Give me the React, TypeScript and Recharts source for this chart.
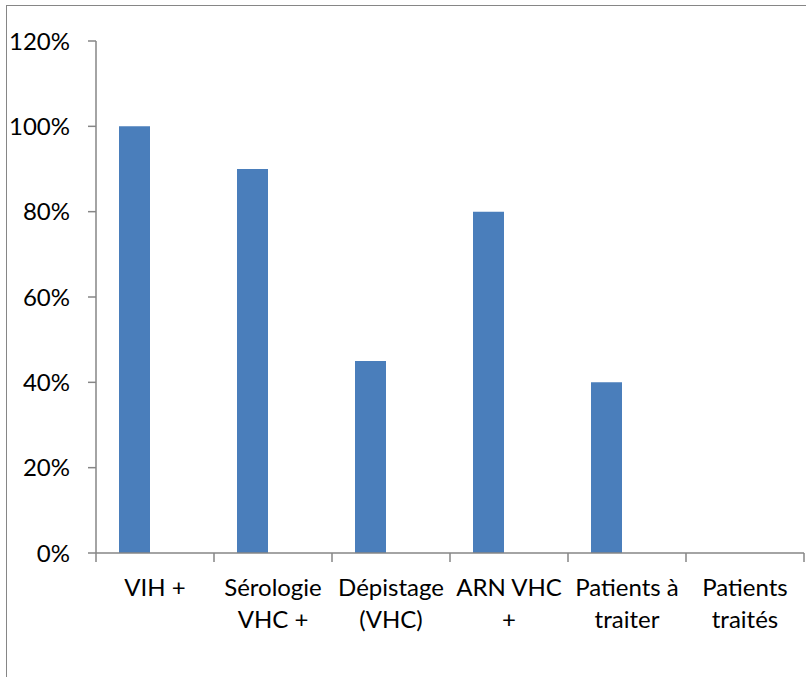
import { Bar, BarChart, XAxis, YAxis } from "recharts";

const CATEGORIES = [
  "VIH +",
  "Sérologie\nVHC +",
  "Dépistage\n(VHC)",
  "ARN VHC\n+",
  "Patients à\ntraiter",
  "Patients\ntraités",
];
const VALUES = [1.0, 0.9, 0.45, 0.8, 0.4, 0];
// second (empty) series of the original Excel chart, keeps bars off-centre
const EMPTY_SERIES = [null, null, null, null, null, null];
const Y_TICKS = [0, 0.2, 0.4, 0.6, 0.8, 1.0, 1.2];

const data = CATEGORIES.map((name, i) => ({ name, value: VALUES[i], other: EMPTY_SERIES[i] }));

const AXIS = "#868686";
const BLUE = "#4a7ebb";
const FONT = "Lato, Carlito, 'Open Sans', sans-serif";

function XTick(props: any) {
  const { x, y, payload, index } = props;
  const half = payload.offset || 59;
  const lines = String(payload.value).split("\n");
  const i = index ?? payload.index;
  return (
    <g>
      <line x1={x - half} x2={x - half} y1={y} y2={y + 9} stroke={AXIS} strokeWidth={1.5} />
      {i === CATEGORIES.length - 1 && (
        <line x1={x + half} x2={x + half} y1={y} y2={y + 9} stroke={AXIS} strokeWidth={1.5} />
      )}
      <text x={x} y={y} textAnchor="middle" fontSize={24} fill="#000" fontFamily={FONT}>
        {lines.map((l, k) => (
          <tspan key={k} x={x} dy={k === 0 ? 43 : 32}>
            {l}
          </tspan>
        ))}
      </text>
    </g>
  );
}

export default function App() {
  return (
    <div style={{ position: "relative", width: 806, height: 677, overflow: "hidden", background: "#fff" }}>
      <style>{`body{margin:0;overflow:hidden}`}</style>
      <div
        style={{
          position: "absolute",
          left: 6,
          top: 5,
          width: 900,
          height: 800,
          border: `1.5px solid ${AXIS}`,
        }}
      />
      <div style={{ position: "absolute", left: 0, top: 0 }}>
        <BarChart
          width={806}
          height={677}
          data={data}
          margin={{ top: 41, right: 2, bottom: 24, left: 0 }}
          barGap={10}
          barSize={31}
        >
          <XAxis
            dataKey="name"
            interval={0}
            tickSize={0}
            tickMargin={0}
            tickLine={false}
            height={100}
            axisLine={{ stroke: AXIS, strokeWidth: 1.5 }}
            tick={<XTick />}
          />
          <YAxis
            domain={[0, 1.2]}
            ticks={Y_TICKS}
            width={96}
            tickSize={8}
            tickMargin={18}
            tickFormatter={(v: number) => `${Math.round(v * 100)}%`}
            axisLine={{ stroke: AXIS, strokeWidth: 1.5 }}
            tickLine={{ stroke: AXIS, strokeWidth: 1.5 }}
            tick={{ fill: "#000", fontSize: 24, fontFamily: FONT }}
          />
          <Bar dataKey="value" fill={BLUE} isAnimationActive={false} />
          <Bar dataKey="other" fill="#c0504d" isAnimationActive={false} />
        </BarChart>
      </div>
    </div>
  );
}
